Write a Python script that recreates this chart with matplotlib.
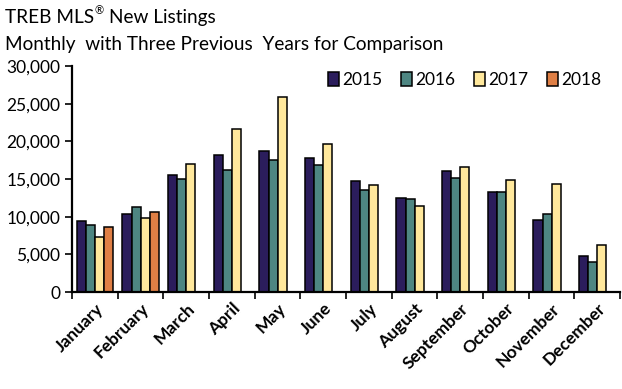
import numpy as np
import matplotlib.pyplot as plt
from matplotlib.ticker import FuncFormatter

months = ['January', 'February', 'March', 'April', 'May', 'June', 'July',
          'August', 'September', 'October', 'November', 'December']
years = ['2015', '2016', '2017', '2018']
listings_2015 = [9500, 10400, 15500, 18200, 18800, 17800, 14800, 12550, 16050, 13300, 9550, 4800]
listings_2016 = [8950, 11350, 15000, 16200, 17500, 16900, 13500, 12400, 15100, 13300, 10400, 4050]
listings_2017 = [7300, 9850, 17050, 21600, 25950, 19600, 14200, 11500, 16550, 14950, 14400, 6250]
listings_2018 = [8600, 10600]

colors = ['#2b1d5c', '#4e8682', '#ffe89c', '#df7f45']

plt.rcParams['font.family'] = ['Lato', 'DejaVu Sans']

fig = plt.figure(figsize=(6.22, 3.89), dpi=100)
ax = fig.add_axes([0.116, 0.249, 0.881, 0.581])

series = [listings_2015, listings_2016, listings_2017, listings_2018]
w = 0.2
x = np.arange(len(months))
for i, (vals, yr) in enumerate(zip(series, years)):
    pos = x[:len(vals)] - 0.3 + i * w
    ax.bar(pos, vals, width=w, color=colors[i], edgecolor='black', linewidth=1.1,
           label=yr)

ax.set_xlim(-0.5, len(months) - 0.5)
ax.set_ylim(0, 30000)
ax.set_yticks(range(0, 30001, 5000))
ax.yaxis.set_major_formatter(FuncFormatter(lambda v, p: f'{int(v):,}'))
ax.set_xticks(x)
ax.set_xticklabels(months, rotation=45, ha='right', rotation_mode='anchor',
                   fontsize=12.5, fontweight='bold')
ax.tick_params(axis='x', length=0, pad=6)
ax.set_xticks(np.arange(-0.5, len(months), 1), minor=True)
ax.tick_params(axis='x', which='minor', length=5, width=1.2, direction='out')
ax.tick_params(axis='y', labelsize=12.5, length=5, width=1.2)
for s in ['top', 'right']:
    ax.spines[s].set_visible(False)
ax.spines['left'].set_linewidth(1.6)
ax.spines['bottom'].set_linewidth(1.6)

ax.legend(loc='upper right', bbox_to_anchor=(0.995, 1.045), ncol=4, frameon=False,
          fontsize=12.5, handlelength=0.65, handleheight=0.9, handletextpad=0.2,
          columnspacing=1.05)

# title: superscript registered sign placed after measured text
renderer = fig.canvas.get_renderer()
t1 = fig.text(0.008, 0.955, 'TREB MLS', fontsize=13.7, va='center')
x1 = fig.transFigure.inverted().transform(t1.get_window_extent(renderer))[1][0]
t2 = fig.text(x1 + 0.001, 0.972, '®', fontsize=8, va='center')
x2 = fig.transFigure.inverted().transform(t2.get_window_extent(renderer))[1][0]
fig.text(x2 + 0.008, 0.955, 'New Listings', fontsize=13.7, va='center')
fig.text(0.008, 0.885, 'Monthly  with Three Previous  Years for Comparison', fontsize=13.7,
         va='center')

fig.savefig('out.png', dpi=100)
